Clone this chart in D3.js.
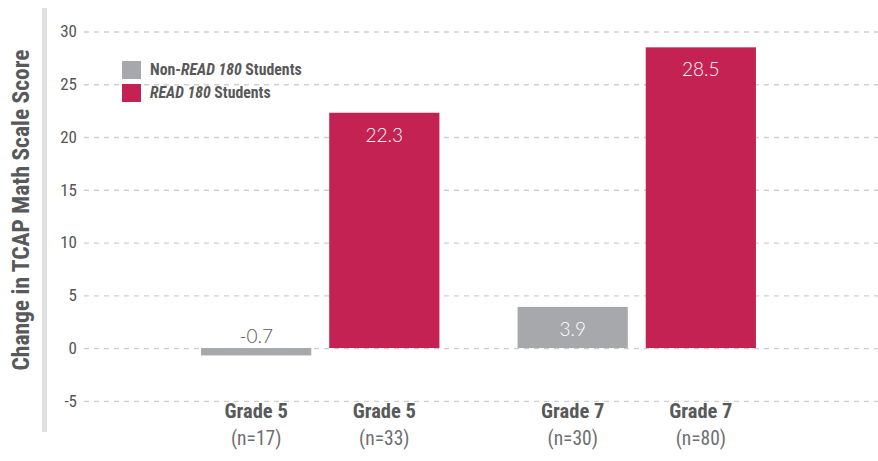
<!DOCTYPE html>
<html><head><meta charset="utf-8">
<script src="https://cdn.jsdelivr.net/npm/d3@7"></script>
<style>
html,body{margin:0;padding:0;background:#fff;}
svg{display:block;}
.cond{font-family:"Liberation Sans Narrow","Roboto Condensed","Roboto",sans-serif;}
</style>
</head><body>
<svg id="chart" width="878" height="461"></svg>
<script>
const grades = ["Grade 5", "Grade 7"];
const seriesNames = ["Non-READ 180 Students", "READ 180 Students"];
const nonRead180 = [-0.7, 3.9];
const read180 = [22.3, 28.5];
const nNon = ["(n=17)", "(n=30)"];
const nRead = ["(n=33)", "(n=80)"];
const yTicks = [-5, 0, 5, 10, 15, 20, 25, 30];
const colors = ["#a7a8ab", "#c42253"];

const hy = s => s.replace("\u2212", "-");
const svg = d3.select("#chart");
const y = d3.scaleLinear().domain([-5, 30]).range([400.8, 31.5]);
const x0 = d3.scaleBand().domain(grades).range([162, 795]).paddingInner(0.247).paddingOuter(0.1234);
const x1 = d3.scaleBand().domain([0, 1]).range([0, x0.bandwidth()]).paddingInner(0.14).paddingOuter(0);

// left decorative bar
svg.append("rect").attr("x", 42).attr("y", 8).attr("width", 5).attr("height", 424).attr("fill", "#e1e1e2");

// grid + ticks
const axis = d3.axisLeft(y).tickValues(yTicks).tickSize(-794).tickPadding(7).tickFormat(d => hy(d3.format("d")(d)));
const g = svg.append("g").attr("transform", "translate(84,0)").call(axis);
g.select(".domain").remove();
g.selectAll(".tick line").attr("stroke", "#cfcfcf").attr("stroke-width", 1.3).attr("stroke-dasharray", "5,5");
g.selectAll(".tick text").attr("class", "cond").attr("fill", "#555").style("font-size", "17px");

// y title
svg.append("text").attr("class", "cond")
  .attr("transform", "translate(29,210) rotate(-90)")
  .attr("text-anchor", "middle").attr("fill", "#58595b")
  .style("font-size", "23.5px").style("font-weight", "bold")
  .text("Change in TCAP Math Scale Score");

const data = [];
grades.forEach((gr, i) => {
  data.push({grade: gr, s: 0, v: nonRead180[i], n: nNon[i]});
  data.push({grade: gr, s: 1, v: read180[i], n: nRead[i]});
});

svg.append("g").selectAll("rect").data(data).join("rect")
  .attr("x", d => x0(d.grade) + x1(d.s))
  .attr("width", x1.bandwidth())
  .attr("y", d => y(Math.max(0, d.v)))
  .attr("height", d => Math.abs(y(d.v) - y(0)))
  .attr("fill", d => colors[d.s]);

// value labels
svg.append("g").selectAll("text").data(data).join("text")
  .attr("x", d => x0(d.grade) + x1(d.s) + x1.bandwidth() / 2)
  .attr("y", d => d.v < 0 ? y(0) - 5 : y(d.v) + 29)
  .attr("text-anchor", "middle")
  .attr("fill", d => d.v < 0 ? "#58595b" : "#fff")
  .style("font-family", "Lato, 'Open Sans', sans-serif")
  .style("font-size", "19px").style("font-weight", "300")
  .text(d => hy(d3.format(".1f")(d.v)));

// x labels
const xl = svg.append("g").selectAll("g").data(data).join("g")
  .attr("transform", d => `translate(${x0(d.grade) + x1(d.s) + x1.bandwidth() / 2},0)`);
xl.append("text").attr("class", "cond").attr("y", 418).attr("text-anchor", "middle")
  .attr("fill", "#58595b").style("font-size", "20.5px").style("font-weight", "bold").text(d => d.grade);
xl.append("text").attr("class", "cond").attr("y", 445).attr("text-anchor", "middle")
  .attr("fill", "#6d6e71").style("font-size", "19.5px").text(d => d.n);

// legend
const leg = svg.append("g").attr("transform", "translate(122,61)");
const items = leg.selectAll("g").data(seriesNames).join("g").attr("transform", (d, i) => `translate(0,${i * 23})`);
items.append("rect").attr("width", 19).attr("height", 18).attr("fill", (d, i) => colors[i]);
const lt = items.append("text").attr("class", "cond").attr("x", 28).attr("y", 14)
  .attr("fill", "#58595b").style("font-size", "15.8px").style("font-weight", "bold");
lt.each(function(d) {
  const t = d3.select(this);
  const m = d.match(/^(.*?)(READ 180)(.*)$/);
  if (m[1]) t.append("tspan").text(m[1]);
  t.append("tspan").style("font-style", "italic").text(m[2]);
  t.append("tspan").text(m[3]);
});
</script>
</body></html>
